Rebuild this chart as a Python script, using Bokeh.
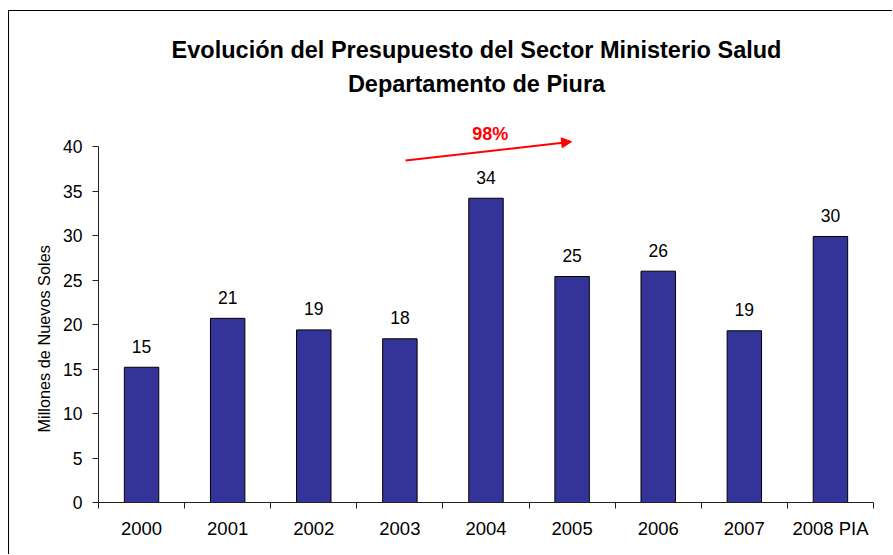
from bokeh.plotting import figure
from bokeh.models import Range1d, FixedTicker, Label, Arrow, NormalHead, ColumnDataSource, Title
from bokeh.core.properties import value
from bokeh.embed import file_html
from bokeh.resources import INLINE

# ---- data ----
years = ["2000", "2001", "2002", "2003", "2004", "2005", "2006", "2007", "2008 PIA"]
values = [15.2, 20.7, 19.4, 18.4, 34.2, 25.4, 26.0, 19.3, 29.9]
value_labels = ["15", "21", "19", "18", "34", "25", "26", "19", "30"]
y_ticks = [0, 5, 10, 15, 20, 25, 30, 35, 40]

title_line1 = "Evolución del Presupuesto del Sector Ministerio Salud"
title_line2 = "Departamento de Piura"
growth_label = "98%"
y_title = "Millones de Nuevos Soles"

FONT = "Liberation Sans"

xs = [i + 0.5 for i in range(len(years))]
src = ColumnDataSource(dict(x=xs, top=values, lab=value_labels))

p = figure(width=884, height=544,
           x_range=Range1d(0, len(years)), y_range=Range1d(0, 54.4),
           output_backend="svg", toolbar_location=None,
           min_border_left=89, min_border_right=20,
           min_border_top=7, min_border_bottom=53)
p.outline_line_color = None
p.grid.visible = False
p.background_fill_color = "white"
p.border_fill_color = "white"
p.styles = {"border-left": "1px solid black", "border-top": "1px solid black",
            "margin-top": "10px", "margin-left": "8px"}

# bars
p.vbar(x="x", top="top", width=0.40, source=src,
       fill_color="#333399", line_color="black", line_width=1)

# value labels
p.text(x="x", y="top", text="lab", source=src, y_offset=-21,
       text_align="center", text_baseline="middle",
       text_font=value(FONT), text_font_size="17.5px", text_color="black")

# x axis
xa = p.xaxis[0]
xa.ticker = FixedTicker(ticks=xs, minor_ticks=list(range(len(years) + 1)))
xa.major_label_overrides = {x: y for x, y in zip(xs, years)}
xa.major_tick_line_color = None
xa.major_tick_out = 0
xa.major_tick_in = 0
xa.minor_tick_in = 0
xa.minor_tick_out = 6
xa.minor_tick_line_color = "#222222"
xa.axis_line_color = "#222222"
xa.major_label_standoff = 9
xa.major_label_text_font = FONT
xa.major_label_text_font_size = "18.5px"
xa.major_label_text_color = "black"

# y axis
ya = p.yaxis[0]
ya.ticker = FixedTicker(ticks=y_ticks)
ya.bounds = (y_ticks[0], y_ticks[-1])
ya.major_tick_in = 0
ya.major_tick_out = 6
ya.minor_tick_line_color = None
ya.major_tick_line_color = "#222222"
ya.axis_line_color = "#222222"
ya.major_label_standoff = 10
ya.major_label_text_font = FONT
ya.major_label_text_font_size = "17.5px"
ya.major_label_text_color = "black"

# y axis title, placed along the 0-40 value span like the reference
p.add_layout(Title(text=y_title, align="left", offset=70, standoff=15,
                   text_font=FONT, text_font_size="16.3px",
                   text_font_style="normal", text_color="black"), "left")

# title
p.add_layout(Label(x=4.39, y=50.9, text=title_line1, text_align="center",
                   text_baseline="middle", text_font=FONT, text_font_size="23.5px",
                   text_font_style="bold", text_color="black"))
p.add_layout(Label(x=4.39, y=47.0, text=title_line2, text_align="center",
                   text_baseline="middle", text_font=FONT, text_font_size="23.5px",
                   text_font_style="bold", text_color="black"))

# growth arrow
p.add_layout(Arrow(end=NormalHead(size=10, fill_color="red", line_color="red"),
                   x_start=3.566, y_start=38.43, x_end=5.494, y_end=40.56,
                   line_color="red", line_width=2))
p.add_layout(Label(x=4.55, y=41.4, text=growth_label, text_align="center",
                   text_baseline="middle", text_font=FONT, text_font_size="18px",
                   text_font_style="bold", text_color="red"))

open("out.html", "w").write(file_html(p, INLINE))
